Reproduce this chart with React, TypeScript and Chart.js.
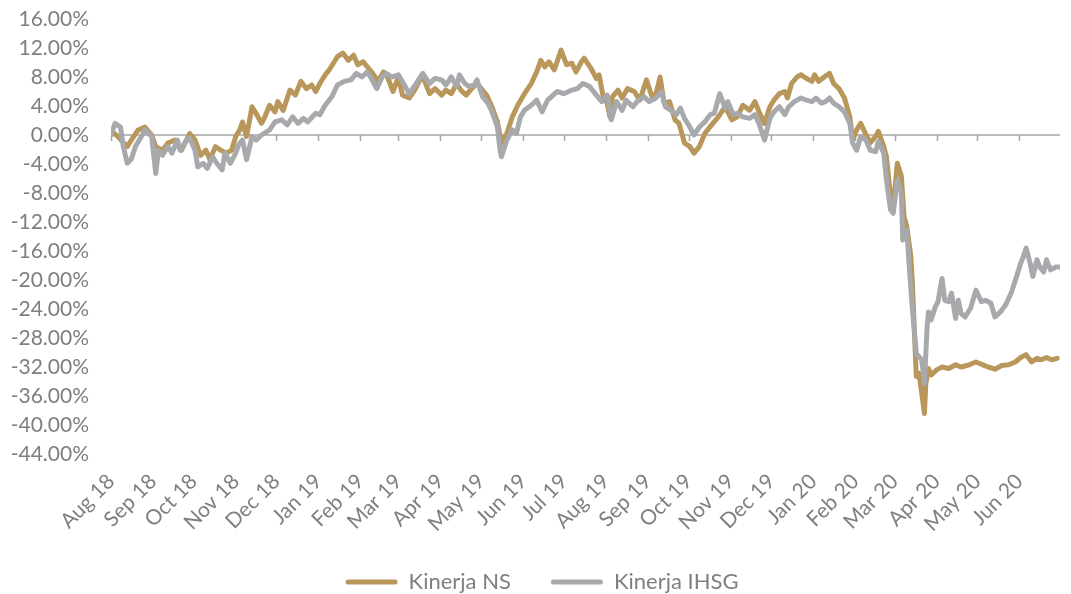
import { useEffect, useRef } from 'react';
import { Chart, registerables } from 'chart.js';

Chart.register(...registerables);

const monthLabels = [
  'Aug 18', 'Sep 18', 'Oct 18', 'Nov 18', 'Dec 18', 'Jan 19', 'Feb 19', 'Mar 19', 'Apr 19', 'May 19', 'Jun 19', 'Jul 19',
  'Aug 19', 'Sep 19', 'Oct 19', 'Nov 19', 'Dec 19', 'Jan 20', 'Feb 20', 'Mar 20', 'Apr 20', 'May 20', 'Jun 20',
];
const monthStarts = [
  '2018-08-01', '2018-09-01', '2018-10-01', '2018-11-01', '2018-12-01', '2019-01-01', '2019-02-01', '2019-03-01',
  '2019-04-01', '2019-05-01', '2019-06-01', '2019-07-01', '2019-08-01', '2019-09-01', '2019-10-01', '2019-11-01',
  '2019-12-01', '2020-01-01', '2020-02-01', '2020-03-01', '2020-04-01', '2020-05-01', '2020-06-01',
];
const axisEnd = '2020-07-01';

const nsDates = [
  '2018-08-01', '2018-08-03', '2018-08-06', '2018-08-13', '2018-08-16', '2018-08-21', '2018-08-26', '2018-08-31',
  '2018-09-03', '2018-09-08', '2018-09-12', '2018-09-17', '2018-09-22', '2018-09-28', '2018-10-02', '2018-10-06',
  '2018-10-10', '2018-10-13', '2018-10-17', '2018-10-21', '2018-10-25', '2018-10-29', '2018-11-01', '2018-11-04',
  '2018-11-06', '2018-11-09', '2018-11-13', '2018-11-16', '2018-11-20', '2018-11-22', '2018-11-26', '2018-11-30',
  '2018-12-02', '2018-12-06', '2018-12-11', '2018-12-15', '2018-12-19', '2018-12-23', '2018-12-27', '2018-12-30',
  '2019-01-02', '2019-01-06', '2019-01-09', '2019-01-12', '2019-01-15', '2019-01-19', '2019-01-23', '2019-01-27',
  '2019-01-30', '2019-02-03', '2019-02-07', '2019-02-10', '2019-02-14', '2019-02-18', '2019-02-21', '2019-02-25',
  '2019-03-01', '2019-03-04', '2019-03-09', '2019-03-13', '2019-03-18', '2019-03-20', '2019-03-24', '2019-03-28',
  '2019-04-02', '2019-04-05', '2019-04-09', '2019-04-13', '2019-04-16', '2019-04-20', '2019-04-24', '2019-04-28',
  '2019-05-02', '2019-05-05', '2019-05-09', '2019-05-13', '2019-05-16', '2019-05-20', '2019-05-24', '2019-05-28',
  '2019-06-02', '2019-06-07', '2019-06-11', '2019-06-14', '2019-06-17', '2019-06-20', '2019-06-24', '2019-06-29',
  '2019-07-03', '2019-07-07', '2019-07-10', '2019-07-14', '2019-07-16', '2019-07-21', '2019-07-25', '2019-07-27',
  '2019-07-30', '2019-08-02', '2019-08-04', '2019-08-06', '2019-08-10', '2019-08-13', '2019-08-17', '2019-08-22',
  '2019-08-26', '2019-08-31', '2019-09-04', '2019-09-07', '2019-09-10', '2019-09-13', '2019-09-17', '2019-09-21',
  '2019-09-24', '2019-09-28', '2019-10-02', '2019-10-05', '2019-10-09', '2019-10-13', '2019-10-18', '2019-10-23',
  '2019-10-28', '2019-11-02', '2019-11-06', '2019-11-10', '2019-11-15', '2019-11-19', '2019-11-22', '2019-11-26',
  '2019-11-30', '2019-12-03', '2019-12-07', '2019-12-11', '2019-12-13', '2019-12-16', '2019-12-20', '2019-12-23',
  '2019-12-27', '2019-12-31', '2020-01-02', '2020-01-05', '2020-01-09', '2020-01-13', '2020-01-16', '2020-01-20',
  '2020-01-24', '2020-01-28', '2020-01-30', '2020-02-02', '2020-02-05', '2020-02-09', '2020-02-12', '2020-02-16',
  '2020-02-18', '2020-02-22', '2020-02-24', '2020-02-27', '2020-02-29', '2020-03-03', '2020-03-06', '2020-03-08',
  '2020-03-10', '2020-03-13', '2020-03-14', '2020-03-17', '2020-03-19', '2020-03-21', '2020-03-23', '2020-03-24',
  '2020-03-26', '2020-03-28', '2020-04-01', '2020-04-05', '2020-04-10', '2020-04-15', '2020-04-19', '2020-04-25',
  '2020-04-30', '2020-05-05', '2020-05-09', '2020-05-14', '2020-05-19', '2020-05-24', '2020-05-29', '2020-06-02',
  '2020-06-06', '2020-06-10', '2020-06-14', '2020-06-17', '2020-06-21', '2020-06-25', '2020-06-29',
];
const nsValues = [
  0, 0.3, -0.2, -1.6, -0.7, 0.7, 1.1, 0,
  -1.6, -2.1, -1.1, -0.7, -2.1, 0.2, -0.7, -2.8,
  -2.1, -3.4, -1.6, -2.1, -2.5, -2.1, -0.2, 0.7,
  1.8, -0.2, 3.9, 3.0, 1.6, 2.3, 4.1, 3.2,
  4.6, 3.4, 6.2, 5.5, 7.4, 6.4, 6.9, 6.0,
  7.1, 8.3, 9.0, 9.9, 10.8, 11.3, 10.3, 11.0,
  9.7, 10.1, 9.2, 8.5, 7.4, 8.7, 8.0, 6.0,
  8.0, 5.5, 5.1, 6.2, 8.0, 7.6, 5.7, 6.4,
  5.5, 6.2, 5.7, 7.1, 6.2, 5.5, 6.4, 7.1,
  6.2, 5.5, 3.9, 1.8, -1.1, 0.2, 2.5, 4.1,
  5.7, 7.1, 8.7, 10.3, 9.4, 10.1, 9.0, 11.7,
  9.7, 9.9, 8.7, 10.1, 10.6, 9.2, 7.8, 8.3,
  5.3, 4.4, 2.5, 5.3, 6.2, 5.1, 6.4, 6.0,
  4.8, 7.6, 5.3, 5.7, 8.0, 4.4, 4.6, 2.1,
  1.6, -1.1, -1.6, -2.5, -1.6, 0.2, 1.4, 2.5,
  3.9, 2.1, 2.5, 4.1, 3.4, 4.6, 3.2, 1.6,
  3.9, 4.8, 5.7, 6.0, 5.1, 7.1, 8.0, 8.3,
  7.8, 7.4, 8.3, 7.4, 8.0, 8.5, 7.1, 6.4,
  5.1, 2.5, -0.7, 0.7, 1.6, 0, -1.1, -0.2,
  0.5, -1.6, -3.0, -8.5, -9.9, -3.9, -5.7, -11.3,
  -12.6, -16.8, -20.0, -33.3, -32.9, -35.6, -38.4, -34.3,
  -32.2, -33.1, -32.4, -32.0, -32.2, -31.7, -32.0, -31.7,
  -31.3, -31.7, -32.0, -32.3, -31.8, -31.7, -31.3, -30.7,
  -30.3, -31.3, -30.8, -31.0, -30.7, -31.0, -30.8,
];

const ihsgDates = [
  '2018-08-01', '2018-08-04', '2018-08-08', '2018-08-10', '2018-08-13', '2018-08-16', '2018-08-19', '2018-08-24',
  '2018-08-26', '2018-08-31', '2018-09-03', '2018-09-05', '2018-09-08', '2018-09-12', '2018-09-15', '2018-09-19',
  '2018-09-21', '2018-09-25', '2018-09-28', '2018-10-02', '2018-10-04', '2018-10-08', '2018-10-11', '2018-10-15',
  '2018-10-18', '2018-10-22', '2018-10-24', '2018-10-28', '2018-11-01', '2018-11-03', '2018-11-06', '2018-11-09',
  '2018-11-13', '2018-11-16', '2018-11-20', '2018-11-26', '2018-11-30', '2018-12-05', '2018-12-09', '2018-12-13',
  '2018-12-17', '2018-12-21', '2018-12-24', '2018-12-30', '2019-01-02', '2019-01-06', '2019-01-11', '2019-01-15',
  '2019-01-20', '2019-01-25', '2019-01-29', '2019-02-02', '2019-02-06', '2019-02-09', '2019-02-13', '2019-02-17',
  '2019-02-20', '2019-02-24', '2019-03-01', '2019-03-06', '2019-03-09', '2019-03-14', '2019-03-19', '2019-03-24',
  '2019-03-28', '2019-04-02', '2019-04-05', '2019-04-09', '2019-04-13', '2019-04-15', '2019-04-19', '2019-04-22',
  '2019-04-26', '2019-04-28', '2019-05-02', '2019-05-06', '2019-05-09', '2019-05-13', '2019-05-15', '2019-05-16',
  '2019-05-20', '2019-05-24', '2019-05-27', '2019-05-30', '2019-06-02', '2019-06-07', '2019-06-11', '2019-06-15',
  '2019-06-19', '2019-06-22', '2019-06-26', '2019-07-01', '2019-07-07', '2019-07-11', '2019-07-15', '2019-07-20',
  '2019-07-25', '2019-07-29', '2019-08-02', '2019-08-05', '2019-08-09', '2019-08-13', '2019-08-16', '2019-08-21',
  '2019-08-24', '2019-08-29', '2019-09-02', '2019-09-07', '2019-09-11', '2019-09-14', '2019-09-18', '2019-09-22',
  '2019-09-25', '2019-09-28', '2019-10-02', '2019-10-05', '2019-10-09', '2019-10-13', '2019-10-17', '2019-10-20',
  '2019-10-24', '2019-10-28', '2019-10-30', '2019-11-03', '2019-11-06', '2019-11-10', '2019-11-15', '2019-11-19',
  '2019-11-22', '2019-11-26', '2019-11-30', '2019-12-03', '2019-12-07', '2019-12-11', '2019-12-14', '2019-12-18',
  '2019-12-23', '2019-12-27', '2019-12-31', '2020-01-03', '2020-01-07', '2020-01-10', '2020-01-13', '2020-01-16',
  '2020-01-20', '2020-01-24', '2020-01-28', '2020-01-30', '2020-02-02', '2020-02-05', '2020-02-09', '2020-02-12',
  '2020-02-16', '2020-02-18', '2020-02-22', '2020-02-24', '2020-02-27', '2020-02-29', '2020-03-03', '2020-03-06',
  '2020-03-07', '2020-03-10', '2020-03-12', '2020-03-14', '2020-03-17', '2020-03-21', '2020-03-23', '2020-03-25',
  '2020-03-26', '2020-03-28', '2020-03-31', '2020-04-02', '2020-04-05', '2020-04-07', '2020-04-10', '2020-04-12',
  '2020-04-15', '2020-04-17', '2020-04-19', '2020-04-22', '2020-04-26', '2020-04-30', '2020-05-04', '2020-05-07',
  '2020-05-11', '2020-05-14', '2020-05-18', '2020-05-22', '2020-05-26', '2020-05-30', '2020-06-02', '2020-06-04',
  '2020-06-06', '2020-06-09', '2020-06-11', '2020-06-14', '2020-06-16', '2020-06-19', '2020-06-21', '2020-06-24',
  '2020-06-28', '2020-06-30',
];
const ihsgValues = [
  0, 1.6, 1.1, -1.5, -3.9, -3.3, -1.6, 0,
  0.7, -0.2, -5.3, -2.1, -2.8, -1.6, -2.5, -0.7,
  -2.1, -0.9, -0.4, -2.1, -4.4, -3.9, -4.6, -3.0,
  -3.9, -4.8, -2.5, -3.9, -2.5, -1.4, -0.7, -3.4,
  -0.2, -0.7, 0, 0.7, 1.8, 2.1, 1.4, 2.5,
  1.6, 2.3, 1.8, 3.0, 2.8, 4.1, 5.3, 6.9,
  7.4, 7.6, 8.5, 8.0, 8.7, 7.8, 6.4, 8.0,
  8.5, 8.0, 8.3, 6.7, 5.7, 7.1, 8.5, 7.1,
  7.8, 7.6, 6.9, 8.0, 6.7, 8.3, 7.1, 6.7,
  6.9, 7.6, 5.3, 4.4, 3.2, 1.1, -2.1, -3.0,
  -0.7, 0.7, 0.2, 2.5, 3.4, 4.1, 4.8, 3.2,
  4.8, 5.3, 6.0, 5.7, 6.2, 6.4, 7.1, 6.7,
  5.5, 4.6, 5.5, 2.1, 4.6, 3.4, 4.8, 3.9,
  4.6, 5.3, 4.6, 5.1, 6.0, 3.9, 3.4, 2.8,
  3.7, 2.3, 1.1, 0, 1.1, 1.8, 2.8, 3.0,
  5.7, 3.7, 4.6, 2.8, 3.0, 2.5, 2.3, 2.8,
  1.6, -0.7, 2.3, 3.2, 3.9, 2.8, 3.9, 4.6,
  5.1, 4.8, 4.6, 5.1, 4.4, 4.6, 5.1, 4.4,
  3.9, 3.2, 1.6, -1.1, -2.1, -0.2, -0.7, -2.1,
  -2.3, -0.9, -2.5, -6.2, -10.3, -10.8, -6.2, -8.0,
  -14.5, -13.1, -18.6, -23.7, -30.1, -31.0, -34.3, -26.4,
  -24.4, -25.5, -23.7, -23.0, -19.8, -22.8, -23.0, -21.8,
  -25.3, -22.8, -24.6, -25.1, -23.9, -21.4, -23.0, -22.8,
  -23.2, -25.1, -24.4, -23.4, -21.8, -19.5, -17.7, -16.8,
  -15.6, -17.7, -19.5, -17.2, -18.2, -18.9, -17.2, -18.6,
  -18.2, -18.2,
];

const GOLD = '#B9975B';
const GRAY = '#A7A9AC';
const TEXT = '#7F7F7F';
const FONT = 'Lato';

export default function App() {
  const ref = useRef<HTMLCanvasElement>(null);

  useEffect(() => {
    if (!ref.current) return;
    const toPoints = (d: string[], v: number[]) => d.map((s, i) => ({ x: Date.parse(s), y: v[i] }));
    const tickValues = monthStarts.map((s) => Date.parse(s));

    const zeroAxis = {
      id: 'zeroAxis',
      afterLayout(chart: any) {
        if (chart.legend) {
          chart.legend.left += 12;
          chart.legend.right += 12;
        }
      },
      beforeDatasetsDraw(chart: any) {
        const { ctx, chartArea, scales } = chart;
        const y0 = scales.y.getPixelForValue(0);
        ctx.save();
        ctx.strokeStyle = '#A6A6A6';
        ctx.lineWidth = 1.5;
        ctx.beginPath();
        ctx.moveTo(chartArea.left, y0);
        ctx.lineTo(chartArea.right, y0);
        tickValues.forEach((v) => {
          const px = Math.round(scales.x.getPixelForValue(v)) + 0.5;
          ctx.moveTo(px, y0);
          ctx.lineTo(px, y0 + 6);
        });
        ctx.stroke();
        ctx.restore();
      },
    };

    const chart = new Chart(ref.current, {
      type: 'line',
      data: {
        datasets: [
          { label: 'Kinerja NS', data: toPoints(nsDates, nsValues), borderColor: GOLD, backgroundColor: GOLD, order: 1 },
          { label: 'Kinerja IHSG', data: toPoints(ihsgDates, ihsgValues), borderColor: GRAY, backgroundColor: GRAY, order: 0 },
        ],
      },
      options: {
        animation: false,
        responsive: false,
        maintainAspectRatio: false,
        elements: {
          point: { radius: 0 },
          line: { borderWidth: 5, tension: 0, borderJoinStyle: 'round', borderCapStyle: 'round' },
        },
        layout: { padding: { left: 0, right: 11, top: 19, bottom: -9 } },
        scales: {
          x: {
            type: 'linear',
            min: tickValues[0],
            max: Date.parse(axisEnd),
            grid: { display: false, drawTicks: false },
            border: { display: false },
            afterBuildTicks: (s: any) => {
              s.ticks = tickValues.map((value) => ({ value }));
            },
            afterFit: (s: any) => {
              s.height = 77;
            },
            ticks: {
              autoSkip: false,
              minRotation: 45,
              maxRotation: 45,
              padding: 15,
              color: TEXT,
              font: { family: FONT, size: 21 },
              callback: (_v: any, i: number) => monthLabels[i],
            },
          },
          y: {
            min: -44,
            max: 16,
            grid: { display: true, drawOnChartArea: false, drawTicks: true, tickLength: 19, color: 'rgba(0,0,0,0)' },
            border: { display: false },
            afterFit: (s: any) => {
              s.width = 111;
            },
            ticks: {
              autoSkip: false,
              stepSize: 4,
              padding: 3,
              color: TEXT,
              font: { family: FONT, size: 21 },
              callback: (v: any) => Number(v).toFixed(2) + '%',
            },
          },
        },
        plugins: {
          tooltip: { enabled: false },
          legend: {
            position: 'bottom',
            labels: {
              boxWidth: 52,
              boxHeight: 5,
              useBorderRadius: true,
              borderRadius: 2.5,
              padding: 40,
              color: TEXT,
              font: { family: FONT, size: 22 },
              sort: (a: any, b: any) => a.datasetIndex - b.datasetIndex,
              generateLabels: (c: any) =>
                Chart.defaults.plugins.legend.labels.generateLabels(c).map((l: any) => ({ ...l, lineWidth: 0 })),
            },
          },
        },
      },
      plugins: [zeroAxis],
    });
    return () => chart.destroy();
  }, []);

  return (
    <div style={{ position: 'fixed', left: 0, top: 0, width: 1071, height: 594, background: '#fff' }}>
      <canvas ref={ref} width={1071} height={594} />
    </div>
  );
}
